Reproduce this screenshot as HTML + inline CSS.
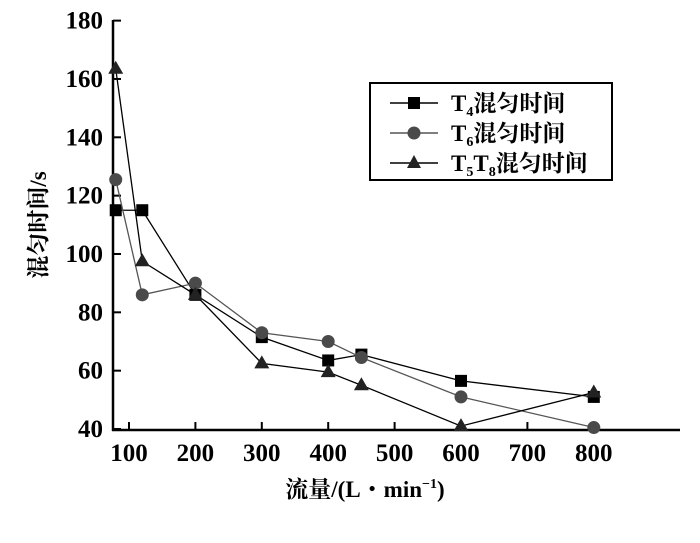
<!DOCTYPE html>
<html><head><meta charset="utf-8"><style>
body{margin:0;background:#fff}
svg{display:block;font-family:"Liberation Serif","Noto Serif CJK SC",serif;font-weight:bold}
</style></head><body>
<svg width="700" height="543" viewBox="0 0 700 543">
<g id="axes"></g><g id="series"></g>
<g>
<rect x="370" y="83" width="242" height="97" fill="#fff" stroke="#000" stroke-width="2"/>
<line x1="390" y1="103" x2="438" y2="103" stroke="#000" stroke-width="1.5"/><rect x="408" y="97" width="12" height="12" fill="#000"/>
<text x="451" y="111" font-size="23">T<tspan font-size="14" dy="5">4</tspan><tspan dy="-5">混匀时间</tspan></text>
<line x1="390" y1="133" x2="438" y2="133" stroke="#555" stroke-width="1.5"/><circle cx="414" cy="133" r="6.5" fill="#4a4a4a"/>
<text x="451" y="141" font-size="23">T<tspan font-size="14" dy="5">6</tspan><tspan dy="-5">混匀时间</tspan></text>
<line x1="390" y1="163" x2="438" y2="163" stroke="#000" stroke-width="1.5"/><polygon points="414,155 421,168 407,168" fill="#222"/>
<text x="451" y="171" font-size="23">T<tspan font-size="14" dy="5">5</tspan><tspan dy="-5">T</tspan><tspan font-size="14" dy="5">8</tspan><tspan dy="-5">混匀时间</tspan></text>
</g>
<text x="365" y="497" font-size="23" text-anchor="middle">流量/(L・min<tspan font-size="14" dy="-9">−1</tspan><tspan dy="9">)</tspan></text>
<text transform="translate(46,225) rotate(-90)" font-size="23" text-anchor="middle">混匀时间/s</text>
</svg>
<script>
const xs=[80,120,200,300,400,450,600,800];
const t4=[115,115,86,71.5,63.5,65.5,56.5,51];
const t6=[125.5,86,90,73,70,64.5,51,40.5];
const t58=[163.5,97.5,86,62.5,59.5,55,41,52.5];
const xTicks=[100,200,300,400,500,600,700,800];
const yTicks=[40,60,80,100,120,140,160,180];
const X=v=>129+(v-100)*0.664, Y=v=>429-(v-40)*2.917;
const NS="http://www.w3.org/2000/svg";
function mk(t,a,p){const e=document.createElementNS(NS,t);for(const k in a)e.setAttribute(k,a[k]);p.appendChild(e);return e;}
const ax=document.getElementById('axes'), se=document.getElementById('series');
const xa=mk('line',{x1:112,y1:430,x2:680,y2:430,stroke:'#000','stroke-width':2.5},ax);


const ya=mk('line',{x1:113,y1:20,x2:113,y2:431,stroke:'#000','stroke-width':2.5},ax);


xTicks.forEach(v=>{mk('line',{x1:X(v),y1:430,x2:X(v),y2:422,stroke:'#000','stroke-width':2},ax);
const t=mk('text',{x:X(v),y:461,'font-size':25,'text-anchor':'middle'},ax);t.textContent=v;

});
yTicks.forEach(v=>{mk('line',{x1:113,y1:Y(v),x2:121,y2:Y(v),stroke:'#000','stroke-width':2},ax);
const t=mk('text',{x:103,y:Y(v)+8,'font-size':25,'text-anchor':'end'},ax);t.textContent=v;

});
function draw(vals,color,shape,name){
const g=mk('g',{},se);


mk('polyline',{points:xs.map((x,i)=>X(x)+','+Y(vals[i])).join(' '),fill:'none',stroke:color,'stroke-width':1.3},g);
xs.forEach((x,i)=>{const cx=X(x),cy=Y(vals[i]);let m;
if(shape==='s')m=mk('rect',{x:cx-6,y:cy-6,width:12,height:12,fill:'#000'},g);
else if(shape==='c')m=mk('circle',{cx:cx,cy:cy,r:6.5,fill:'#4a4a4a'},g);
else m=mk('polygon',{points:`${cx},${cy-8} ${cx+7.5},${cy+5} ${cx-7.5},${cy+5}`,fill:'#222'},g);

});
}
draw(t4,'#000','s','series-t4');
draw(t6,'#555','c','series-t6');
draw(t58,'#000','t','series-t5t8');
</script>
</body></html>
